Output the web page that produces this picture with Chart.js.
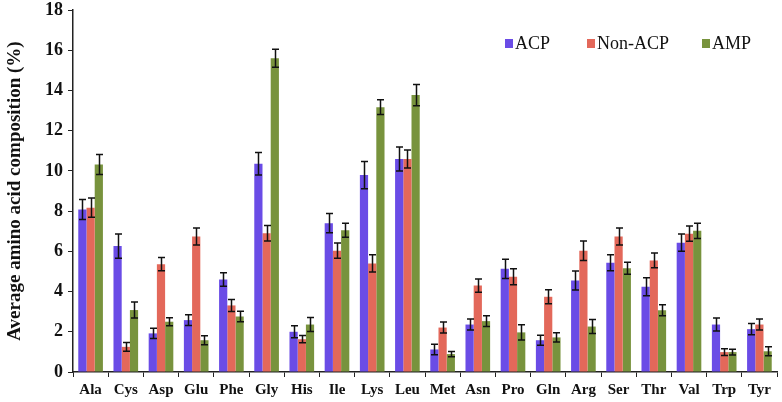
<!DOCTYPE html>
<html lang="en">
<head>
    <meta charset="UTF-8">
    <title>Average amino acid composition</title>
    <script src="https://cdn.jsdelivr.net/npm/chart.js"></script>
    <style>
        html, body { margin: 0; padding: 0; background: #fff; }
        .wrap { width: 782px; height: 402px; }
    </style>
</head>
<body>
    <div class="wrap"><canvas id="aaChart" width="782" height="402"></canvas></div>
    <script>
// amino acids
const aminoAcids = ['Ala', 'Cys', 'Asp', 'Glu', 'Phe', 'Gly', 'His', 'Ile', 'Lys', 'Leu',
                    'Met', 'Asn', 'Pro', 'Gln', 'Arg', 'Ser', 'Thr', 'Val', 'Trp', 'Tyr'];

// mean composition (%)
const acpValues    = [8.08, 6.26, 1.92, 2.58, 4.60, 10.36, 2.00, 7.40, 9.79, 10.59,
                      1.12, 2.36, 5.13, 1.58, 4.55, 5.43, 4.24, 6.43, 2.36, 2.13];
const nonAcpValues = [8.17, 1.25, 5.36, 6.74, 3.31, 6.90, 1.63, 6.03, 5.40, 10.59,
                      2.21, 4.30, 4.74, 3.74, 6.03, 6.74, 5.55, 6.88, 0.99, 2.36];
const ampValues    = [10.32, 3.08, 2.50, 1.58, 2.76, 15.60, 2.36, 7.05, 13.17, 13.77,
                      0.89, 2.53, 1.97, 1.72, 2.26, 5.16, 3.07, 7.02, 0.99, 1.03];

// error (+/-)
const acpErr    = [0.50, 0.60, 0.25, 0.27, 0.34, 0.56, 0.30, 0.48, 0.68, 0.60,
                   0.26, 0.27, 0.48, 0.25, 0.47, 0.40, 0.45, 0.43, 0.32, 0.28];
const nonAcpErr = [0.48, 0.22, 0.33, 0.42, 0.30, 0.38, 0.18, 0.38, 0.43, 0.45,
                   0.27, 0.33, 0.40, 0.35, 0.48, 0.42, 0.37, 0.38, 0.17, 0.27];
const ampErr    = [0.50, 0.40, 0.20, 0.22, 0.26, 0.45, 0.35, 0.35, 0.37, 0.53,
                   0.13, 0.27, 0.38, 0.23, 0.35, 0.30, 0.27, 0.38, 0.14, 0.22];

const yTicks = [0, 2, 4, 6, 8, 10, 12, 14, 16, 18];

const serif = "'Liberation Serif', 'Times New Roman', serif";

// error bars drawn on top of each bar
const errorBarPlugin = {
    id: 'errorBars',
    afterDatasetsDraw(chart) {
        const ctx = chart.ctx;
        const yScale = chart.scales.y;
        ctx.save();
        ctx.strokeStyle = '#111';
        ctx.lineWidth = 1.5;
        chart.data.datasets.forEach((ds, i) => {
            const meta = chart.getDatasetMeta(i);
            meta.data.forEach((bar, j) => {
                const v = ds.data[j];
                const e = ds.errors[j];
                const x = Math.round(bar.x) + 0.5;
                const yTop = yScale.getPixelForValue(v + e);
                const yBot = yScale.getPixelForValue(v - e);
                ctx.beginPath();
                ctx.moveTo(x, yTop);
                ctx.lineTo(x, yBot);
                ctx.moveTo(x - 3.5, yTop);
                ctx.lineTo(x + 3.5, yTop);
                ctx.moveTo(x - 3.5, yBot);
                ctx.lineTo(x + 3.5, yBot);
                ctx.stroke();
            });
        });
        ctx.restore();
    }
};

// legend in the top right of the plot
const legendPlugin = {
    id: 'cornerLegend',
    afterDraw(chart) {
        const ctx = chart.ctx;
        const xs = [505, 587, 702];
        const y = 43;
        ctx.save();
        ctx.font = "18px " + serif;
        ctx.textBaseline = 'middle';
        chart.data.datasets.forEach((ds, i) => {
            ctx.fillStyle = ds.backgroundColor;
            ctx.fillRect(xs[i], y - 4, 8, 9);
            ctx.fillStyle = '#111';
            ctx.fillText(ds.label, xs[i] + 10, y + 1);
        });
        ctx.restore();
    }
};

const config = {
    type: 'bar',
    data: {
        labels: aminoAcids,
        datasets: [
            { label: 'ACP', data: acpValues, errors: acpErr, backgroundColor: '#6a4ce6' },
            { label: 'Non-ACP', data: nonAcpValues, errors: nonAcpErr, backgroundColor: '#e3685a' },
            { label: 'AMP', data: ampValues, errors: ampErr, backgroundColor: '#78933d' }
        ]
    },
    options: {
        responsive: false,
        animation: false,
        layout: { padding: { top: 10, right: 5, left: 4, bottom: 0 } },
        datasets: {
            bar: { categoryPercentage: 0.7, barPercentage: 1.0 }
        },
        plugins: {
            legend: { display: false },
            tooltip: { enabled: false }
        },
        scales: {
            x: {
                grid: { drawOnChartArea: false, color: '#222', tickLength: 5 },
                border: { color: '#222', width: 1.5 },
                ticks: { color: '#111', font: { family: serif, size: 15, weight: 'bold' }, padding: 4 },
                afterFit(scale) { scale.height = 30; }
            },
            y: {
                min: 0,
                max: 18,
                afterBuildTicks(scale) { scale.ticks = yTicks.map(v => ({ value: v })); },
                grid: { drawOnChartArea: false, color: '#222', tickLength: 5 },
                border: { color: '#222', width: 1.5 },
                ticks: { color: '#111', font: { family: serif, size: 18, weight: 'bold' }, padding: 5 },
                title: {
                    display: true,
                    text: 'Average amino acid composition (%)',
                    color: '#111',
                    font: { family: serif, size: 19, weight: 'bold' },
                    padding: { top: 0, bottom: 0 }
                },
                afterFit(scale) {
                    scale.width = 69;
                    scale.paddingTop = 0;
                    scale.paddingBottom = 0;
                }
            }
        }
    },
    plugins: [errorBarPlugin, legendPlugin]
};

new Chart(document.getElementById('aaChart'), config);
    </script>
</body>
</html>
